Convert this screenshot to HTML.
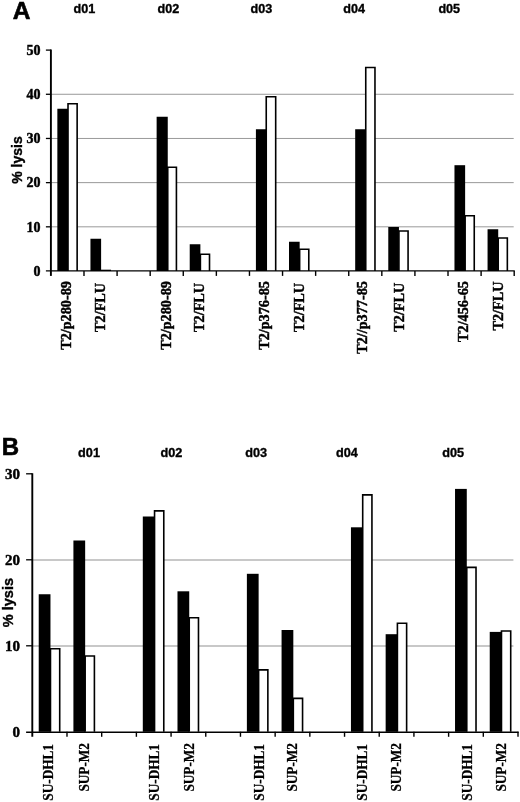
<!DOCTYPE html>
<html><head><meta charset="utf-8"><title>Figure</title>
<style>
html,body{margin:0;padding:0;background:#fff;}
body{width:520px;height:802px;overflow:hidden;}
svg{display:block;}
.sans{font-family:"Liberation Sans",Arial,Helvetica,sans-serif;font-weight:bold;fill:#000;stroke:#000;stroke-width:0.35;}
.serif{font-family:"Liberation Serif","Times New Roman",Times,serif;font-weight:bold;fill:#000;stroke:#000;stroke-width:0.45;}
</style></head><body>
<svg width="520" height="802" viewBox="0 0 520 802">
<rect x="0" y="0" width="520" height="802" fill="#fff"/>
<line x1="50.9" y1="226.82" x2="513.7" y2="226.82" stroke="#999999" stroke-width="1"/>
<line x1="50.9" y1="182.64" x2="513.7" y2="182.64" stroke="#999999" stroke-width="1"/>
<line x1="50.9" y1="138.46" x2="513.7" y2="138.46" stroke="#999999" stroke-width="1"/>
<line x1="50.9" y1="94.28" x2="513.7" y2="94.28" stroke="#999999" stroke-width="1"/>
<rect x="57.35" y="108.75" width="10.66" height="162.25" fill="#000"/>
<path d="M68.01 271V103.75H77.14V271" fill="#fff" stroke="#000" stroke-width="1.6" stroke-linejoin="miter"/>
<rect x="90.45" y="238.75" width="10.66" height="32.25" fill="#000"/>
<rect x="100.3" y="269.7" width="10.73" height="1.3" fill="#000"/>
<rect x="156.63" y="116.75" width="11.12" height="154.25" fill="#000"/>
<path d="M167.75 271V167.25H176.42V271" fill="#fff" stroke="#000" stroke-width="1.6" stroke-linejoin="miter"/>
<rect x="189.72" y="244.25" width="10.66" height="26.75" fill="#000"/>
<path d="M200.38 271V254.25H209.51V271" fill="#fff" stroke="#000" stroke-width="1.6" stroke-linejoin="miter"/>
<rect x="255.91" y="129.25" width="10.33" height="141.75" fill="#000"/>
<path d="M266.24 271V96.75H275.69V271" fill="#fff" stroke="#000" stroke-width="1.6" stroke-linejoin="miter"/>
<rect x="289" y="241.75" width="10.66" height="29.25" fill="#000"/>
<path d="M299.66 271V249.25H308.79V271" fill="#fff" stroke="#000" stroke-width="1.6" stroke-linejoin="miter"/>
<rect x="355.19" y="129.25" width="10.56" height="141.75" fill="#000"/>
<path d="M365.75 271V67.5H374.97V271" fill="#fff" stroke="#000" stroke-width="1.6" stroke-linejoin="miter"/>
<rect x="388.28" y="227" width="10.66" height="44" fill="#000"/>
<path d="M398.94 271V231H408.07V271" fill="#fff" stroke="#000" stroke-width="1.6" stroke-linejoin="miter"/>
<rect x="454.47" y="165.2" width="10.66" height="105.8" fill="#000"/>
<path d="M465.13 271V215.7H474.25V271" fill="#fff" stroke="#000" stroke-width="1.6" stroke-linejoin="miter"/>
<rect x="487.56" y="229.25" width="10.66" height="41.75" fill="#000"/>
<path d="M498.22 271V238H507.34V271" fill="#fff" stroke="#000" stroke-width="1.6" stroke-linejoin="miter"/>
<line x1="50.9" y1="49.5" x2="50.9" y2="275.9" stroke="#000" stroke-width="1.9"/>
<line x1="45.9" y1="270.9" x2="514.8" y2="270.9" stroke="#000" stroke-width="1.4"/>
<text class="serif" font-size="14" text-anchor="end" x="40.5" y="275.73">0</text>
<line x1="45.9" y1="226.82" x2="50.9" y2="226.82" stroke="#000" stroke-width="1.3"/>
<text class="serif" font-size="14" text-anchor="end" x="40.5" y="231.55">10</text>
<line x1="45.9" y1="182.64" x2="50.9" y2="182.64" stroke="#000" stroke-width="1.3"/>
<text class="serif" font-size="14" text-anchor="end" x="40.5" y="187.37">20</text>
<line x1="45.9" y1="138.46" x2="50.9" y2="138.46" stroke="#000" stroke-width="1.3"/>
<text class="serif" font-size="14" text-anchor="end" x="40.5" y="143.19">30</text>
<line x1="45.9" y1="94.28" x2="50.9" y2="94.28" stroke="#000" stroke-width="1.3"/>
<text class="serif" font-size="14" text-anchor="end" x="40.5" y="99.01">40</text>
<line x1="45.9" y1="50.1" x2="50.9" y2="50.1" stroke="#000" stroke-width="1.3"/>
<text class="serif" font-size="14" text-anchor="end" x="40.5" y="54.83">50</text>
<line x1="83.99" y1="271" x2="83.99" y2="275.9" stroke="#000" stroke-width="1.4"/>
<line x1="117.09" y1="271" x2="117.09" y2="275.9" stroke="#000" stroke-width="1.4"/>
<line x1="150.18" y1="271" x2="150.18" y2="275.9" stroke="#000" stroke-width="1.4"/>
<line x1="183.27" y1="271" x2="183.27" y2="275.9" stroke="#000" stroke-width="1.4"/>
<line x1="216.36" y1="271" x2="216.36" y2="275.9" stroke="#000" stroke-width="1.4"/>
<line x1="249.46" y1="271" x2="249.46" y2="275.9" stroke="#000" stroke-width="1.4"/>
<line x1="282.55" y1="271" x2="282.55" y2="275.9" stroke="#000" stroke-width="1.4"/>
<line x1="315.64" y1="271" x2="315.64" y2="275.9" stroke="#000" stroke-width="1.4"/>
<line x1="348.74" y1="271" x2="348.74" y2="275.9" stroke="#000" stroke-width="1.4"/>
<line x1="381.83" y1="271" x2="381.83" y2="275.9" stroke="#000" stroke-width="1.4"/>
<line x1="414.92" y1="271" x2="414.92" y2="275.9" stroke="#000" stroke-width="1.4"/>
<line x1="448.01" y1="271" x2="448.01" y2="275.9" stroke="#000" stroke-width="1.4"/>
<line x1="481.11" y1="271" x2="481.11" y2="275.9" stroke="#000" stroke-width="1.4"/>
<line x1="514.2" y1="271" x2="514.2" y2="275.9" stroke="#000" stroke-width="1.4"/>
<text class="serif" font-size="13.6" style="stroke-width:0.45" text-anchor="end" transform="translate(70.95,281.1) rotate(-90) scale(1.047,1)">T2/p280-89</text>
<text class="serif" font-size="13.6" style="stroke-width:0.45" text-anchor="end" transform="translate(104.64,282.9) rotate(-90) scale(1.047,1)">T2/FLU</text>
<text class="serif" font-size="13.6" style="stroke-width:0.45" text-anchor="end" transform="translate(171.23,281.1) rotate(-90) scale(1.047,1)">T2/p280-89</text>
<text class="serif" font-size="13.6" style="stroke-width:0.45" text-anchor="end" transform="translate(203.92,282.9) rotate(-90) scale(1.047,1)">T2/FLU</text>
<text class="serif" font-size="13.6" style="stroke-width:0.45" text-anchor="end" transform="translate(268.5,281.1) rotate(-90) scale(1.047,1)">T2/p376-85</text>
<text class="serif" font-size="13.6" style="stroke-width:0.45" text-anchor="end" transform="translate(304.2,282.9) rotate(-90) scale(1.047,1)">T2/FLU</text>
<text class="serif" font-size="13.6" style="stroke-width:0.45" text-anchor="end" transform="translate(367.48,281.1) rotate(-90) scale(1.047,1)">T2//p377-85</text>
<text class="serif" font-size="13.6" style="stroke-width:0.45" text-anchor="end" transform="translate(403.68,282.7) rotate(-90) scale(1.047,1)">T2/FLU</text>
<text class="serif" font-size="13.6" style="stroke-width:0.45" text-anchor="end" transform="translate(468.06,281.1) rotate(-90) scale(1.047,1)">T2/456-65</text>
<text class="serif" font-size="13.6" style="stroke-width:0.45" text-anchor="end" transform="translate(502.85,281.6) rotate(-90) scale(1.047,1)">T2/FLU</text>
<text class="sans" font-size="14" text-anchor="middle" transform="translate(21.9,160) rotate(-90)">% lysis</text>
<line x1="32.3" y1="646" x2="513.4" y2="646" stroke="#919191" stroke-width="1"/>
<line x1="32.3" y1="560" x2="513.4" y2="560" stroke="#919191" stroke-width="1"/>
<rect x="38.72" y="594.25" width="11.75" height="137.55" fill="#000"/>
<path d="M50.47 731.8V648.75H59.71V731.8" fill="#fff" stroke="#000" stroke-width="1.6" stroke-linejoin="miter"/>
<rect x="73.41" y="540.5" width="11.75" height="191.3" fill="#000"/>
<path d="M85.16 731.8V656H94.4V731.8" fill="#fff" stroke="#000" stroke-width="1.6" stroke-linejoin="miter"/>
<rect x="142.8" y="516.5" width="11.75" height="215.3" fill="#000"/>
<path d="M154.55 731.8V510.9H163.78V731.8" fill="#fff" stroke="#000" stroke-width="1.6" stroke-linejoin="miter"/>
<rect x="177.49" y="591.3" width="11.75" height="140.5" fill="#000"/>
<path d="M189.24 731.8V617.8H198.48V731.8" fill="#fff" stroke="#000" stroke-width="1.6" stroke-linejoin="miter"/>
<rect x="246.88" y="573.8" width="11.75" height="158" fill="#000"/>
<path d="M258.62 731.8V669.9H267.86V731.8" fill="#fff" stroke="#000" stroke-width="1.6" stroke-linejoin="miter"/>
<rect x="281.57" y="630" width="11.75" height="101.8" fill="#000"/>
<path d="M293.32 731.8V698.4H302.56V731.8" fill="#fff" stroke="#000" stroke-width="1.6" stroke-linejoin="miter"/>
<rect x="350.95" y="527.3" width="11.75" height="204.5" fill="#000"/>
<path d="M362.7 731.8V494.9H371.94V731.8" fill="#fff" stroke="#000" stroke-width="1.6" stroke-linejoin="miter"/>
<rect x="385.65" y="634.2" width="11.75" height="97.6" fill="#000"/>
<path d="M397.4 731.8V623.2H406.63V731.8" fill="#fff" stroke="#000" stroke-width="1.6" stroke-linejoin="miter"/>
<rect x="455.03" y="488.9" width="11.75" height="242.9" fill="#000"/>
<path d="M466.78 731.8V567.4H476.02V731.8" fill="#fff" stroke="#000" stroke-width="1.6" stroke-linejoin="miter"/>
<rect x="489.73" y="631.9" width="11.75" height="99.9" fill="#000"/>
<path d="M501.47 731.8V631H510.71V731.8" fill="#fff" stroke="#000" stroke-width="1.6" stroke-linejoin="miter"/>
<line x1="32.3" y1="473.2" x2="32.3" y2="736.8" stroke="#000" stroke-width="1.9"/>
<line x1="26.1" y1="732.3" x2="518.6" y2="732.3" stroke="#000" stroke-width="1.4"/>
<text class="serif" font-size="15" text-anchor="end" x="20" y="736.87">0</text>
<line x1="26.1" y1="645.8" x2="32.3" y2="645.8" stroke="#000" stroke-width="1.3"/>
<text class="serif" font-size="15" text-anchor="end" x="20" y="650.87">10</text>
<line x1="26.1" y1="559.8" x2="32.3" y2="559.8" stroke="#000" stroke-width="1.3"/>
<text class="serif" font-size="15" text-anchor="end" x="20" y="564.87">20</text>
<line x1="26.1" y1="473.8" x2="32.3" y2="473.8" stroke="#000" stroke-width="1.3"/>
<text class="serif" font-size="15" text-anchor="end" x="20" y="478.87">30</text>
<line x1="66.99" y1="731.8" x2="66.99" y2="736.8" stroke="#000" stroke-width="1.4"/>
<line x1="101.69" y1="731.8" x2="101.69" y2="736.8" stroke="#000" stroke-width="1.4"/>
<line x1="136.38" y1="731.8" x2="136.38" y2="736.8" stroke="#000" stroke-width="1.4"/>
<line x1="171.07" y1="731.8" x2="171.07" y2="736.8" stroke="#000" stroke-width="1.4"/>
<line x1="205.76" y1="731.8" x2="205.76" y2="736.8" stroke="#000" stroke-width="1.4"/>
<line x1="240.46" y1="731.8" x2="240.46" y2="736.8" stroke="#000" stroke-width="1.4"/>
<line x1="275.15" y1="731.8" x2="275.15" y2="736.8" stroke="#000" stroke-width="1.4"/>
<line x1="309.84" y1="731.8" x2="309.84" y2="736.8" stroke="#000" stroke-width="1.4"/>
<line x1="344.54" y1="731.8" x2="344.54" y2="736.8" stroke="#000" stroke-width="1.4"/>
<line x1="379.23" y1="731.8" x2="379.23" y2="736.8" stroke="#000" stroke-width="1.4"/>
<line x1="413.92" y1="731.8" x2="413.92" y2="736.8" stroke="#000" stroke-width="1.4"/>
<line x1="448.61" y1="731.8" x2="448.61" y2="736.8" stroke="#000" stroke-width="1.4"/>
<line x1="483.31" y1="731.8" x2="483.31" y2="736.8" stroke="#000" stroke-width="1.4"/>
<line x1="518" y1="731.8" x2="518" y2="736.8" stroke="#000" stroke-width="1.4"/>
<text class="serif" font-size="13.6" style="stroke-width:0.25" text-anchor="end" transform="translate(52.85,744) rotate(-90) scale(0.975,1)">SU-DHL1</text>
<text class="serif" font-size="13.6" style="stroke-width:0.25" text-anchor="end" transform="translate(89.14,743) rotate(-90) scale(0.975,1)">SUP-M2</text>
<text class="serif" font-size="13.6" style="stroke-width:0.25" text-anchor="end" transform="translate(159.12,744) rotate(-90) scale(0.975,1)">SU-DHL1</text>
<text class="serif" font-size="13.6" style="stroke-width:0.25" text-anchor="end" transform="translate(193.62,743) rotate(-90) scale(0.975,1)">SUP-M2</text>
<text class="serif" font-size="13.6" style="stroke-width:0.25" text-anchor="end" transform="translate(264,744) rotate(-90) scale(0.975,1)">SU-DHL1</text>
<text class="serif" font-size="13.6" style="stroke-width:0.25" text-anchor="end" transform="translate(297.3,743) rotate(-90) scale(0.975,1)">SUP-M2</text>
<text class="serif" font-size="13.6" style="stroke-width:0.25" text-anchor="end" transform="translate(366.88,744) rotate(-90) scale(0.975,1)">SU-DHL1</text>
<text class="serif" font-size="13.6" style="stroke-width:0.25" text-anchor="end" transform="translate(401.47,743) rotate(-90) scale(0.975,1)">SUP-M2</text>
<text class="serif" font-size="13.6" style="stroke-width:0.25" text-anchor="end" transform="translate(471.96,744) rotate(-90) scale(0.975,1)">SU-DHL1</text>
<text class="serif" font-size="13.6" style="stroke-width:0.25" text-anchor="end" transform="translate(506.15,743) rotate(-90) scale(0.975,1)">SUP-M2</text>
<text class="sans" font-size="14.5" text-anchor="middle" transform="translate(12.9,602.6) rotate(-90)">% lysis</text>
<text class="sans" font-size="24.5" style="stroke-width:0.6" x="12.7" y="19.2">A</text>
<text class="sans" font-size="24" style="stroke-width:0.6" x="1.8" y="455.4">B</text>
<text class="sans" font-size="12.6" x="73.5" y="12.5">d01</text>
<text class="sans" font-size="12.6" x="157.5" y="12.5">d02</text>
<text class="sans" font-size="12.6" x="250.5" y="12.5">d03</text>
<text class="sans" font-size="12.6" x="343.3" y="12.5">d04</text>
<text class="sans" font-size="12.6" x="438.4" y="12.5">d05</text>
<text class="sans" font-size="12.7" x="78.1" y="456.75">d01</text>
<text class="sans" font-size="12.7" x="160.4" y="456.75">d02</text>
<text class="sans" font-size="12.7" x="245.3" y="456.75">d03</text>
<text class="sans" font-size="12.7" x="336.0" y="456.75">d04</text>
<text class="sans" font-size="12.7" x="442.2" y="456.75">d05</text>
</svg></body></html>
